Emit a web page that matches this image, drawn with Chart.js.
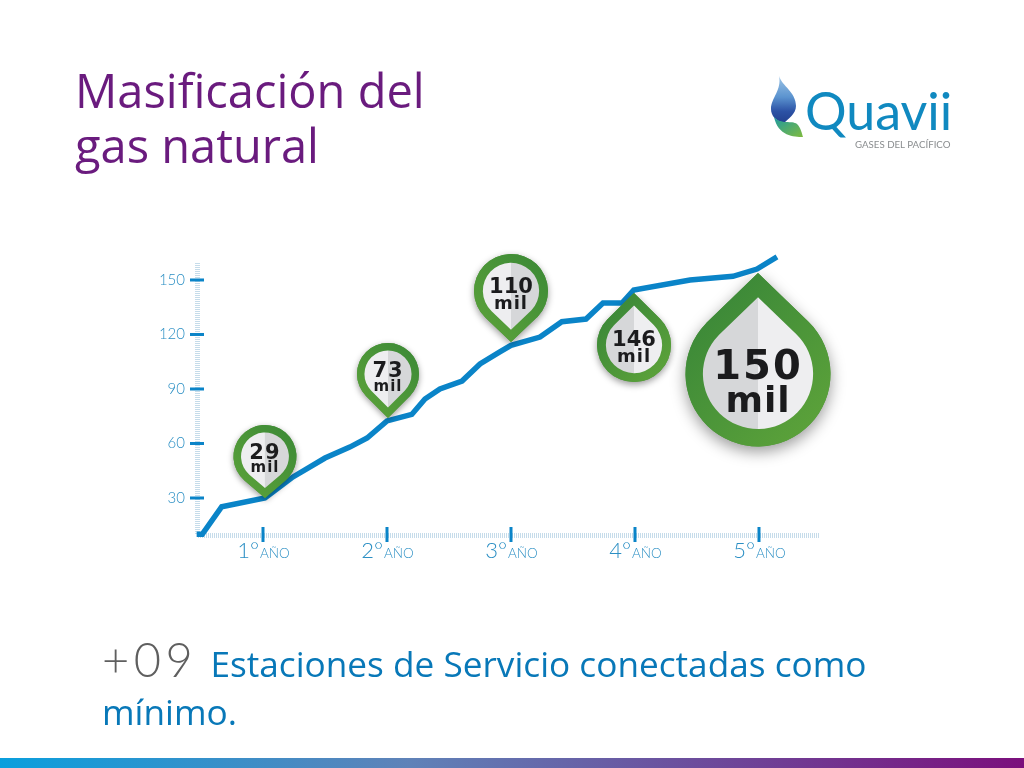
<!DOCTYPE html>
<html>
<head>
<meta charset="utf-8">
<title>Masificación del gas natural</title>
<script src="https://cdn.jsdelivr.net/npm/chart.js@4/dist/chart.umd.js"></script>
<style>
	html, body { margin: 0; padding: 0; background: #fff; }
	#page { position: relative; width: 1024px; height: 768px; overflow: hidden; font-family: "Open Sans", sans-serif; }
	#chart { position: absolute; left: 0; top: 0; }
	.title { position: absolute; left: 75px; top: 63px; font-size: 47px; line-height: 55px; color: #6a1b7e; }
	.foot { position: absolute; left: 102px; top: 635px; width: 800px; font-size: 35.2px; line-height: 48px; color: #0878b8; white-space: nowrap; }
	.foot b { font-family: Lato, sans-serif; font-weight: 300; font-size: 47px; color: #5f5f5f; letter-spacing: 4.5px; margin-right: 4px; line-height: 48px; }
	.bar { position: absolute; left: 0; top: 758px; width: 1024px; height: 10px; background: linear-gradient(to right, #0a9fdd, #5f82b8 40%, #7b0f7c); }
	.brand { position: absolute; left: 805px; top: 79px; font-family: Lato, sans-serif; font-size: 52px; line-height: 62px; color: #1089c0; }
	.sub { position: absolute; left: 855px; top: 138px; font-family: Lato, sans-serif; font-size: 9.7px; line-height: 13px; color: #8a8d8f; white-space: nowrap; }
	svg { position: absolute; left: 768px; top: 74px; }
</style>
</head>
<body>
<div id="page">
	<canvas id="chart" width="1024" height="768"></canvas>
	<div class="title">Masificación del<br>gas natural</div>
	<svg width="40" height="68" viewBox="0 0 40 68">
		<defs>
			<linearGradient id="blue" x1="0" y1="0" x2="0" y2="1">
				<stop offset="0" stop-color="#9cc4e6"/>
				<stop offset="0.45" stop-color="#5b93cf"/>
				<stop offset="0.75" stop-color="#2c52a5"/>
				<stop offset="1" stop-color="#22408f"/>
			</linearGradient>
			<linearGradient id="green" x1="0" y1="0" x2="1" y2="1">
				<stop offset="0" stop-color="#1f9aa0"/>
				<stop offset="1" stop-color="#7fbb3f"/>
			</linearGradient>
		</defs>
		<path d="M11 2 C14 12 28 18 28 32 C28 40 20 45 16 49 C8 47 3 42 3 35 C3 24 14 16 11 2 Z" fill="url(#blue)"/>
		<path d="M6 43 C13 51 24 46 29 50 C33 54 34 60 35 63 C26 63 10 62 6 43 Z" fill="url(#green)"/>
	</svg>
	<div class="brand">Quavii</div>
	<div class="sub">GASES DEL PACÍFICO</div>
	<div class="foot"><b>+09</b> Estaciones de Servicio conectadas como<br>mínimo.</div>
	<div class="bar"></div>
</div>
<script>
// values, x is in years
const lineYears = [0.465, 0.51, 0.667, 1.016, 1.242, 1.5, 1.7, 1.84, 2, 2.2, 2.306, 2.427, 2.605, 2.75, 2.91, 3, 3.234, 3.41, 3.605, 3.742, 3.895, 3.99, 4.444, 4.79, 4.984, 5.145];
const lineValues = [10, 10, 25.2, 30, 41.6, 52, 58, 63, 72.4, 76, 84.5, 90, 94.4, 103.8, 110.4, 114, 118.6, 127, 128.5, 137.3, 137.3, 144.5, 150, 152, 156, 162.7];

const pinYears = [1.016, 2.008, 3, 3.992, 4.992];
const pinValues = [30, 74, 115.9, 142.8, 153.9];
const pinLabels = ["29", "73", "110", "146", "150"];

const yTicks = [30, 60, 90, 120, 150];
const xTicks = [1, 2, 3, 4, 5];
const xTickLabels = ["1°", "2°", "3°", "4°", "5°"];
const xTickUnit = "AÑO";

const BLUE = "#0a84c8";
const TICK_TEXT = "#2b8fc4";

// rule ticks and the two sized year labels
const axisPlugin = {
	id: "axisRules",
	beforeDatasetsDraw(chart) {
		const { ctx, scales } = chart;
		const x = scales.x;
		const y = scales.y;
		const left = x.left;
		const bottom = y.bottom;

		ctx.save();
		ctx.fillStyle = "#c6dcea";
		for (let v = x.min + 0.02; v < x.max; v += 1 / 62) {
			ctx.fillRect(Math.round(x.getPixelForValue(v)), bottom - 2, 1, 5);
		}
		for (let v = y.min + 1; v < 159.5; v += 1.1) {
			ctx.fillRect(left - 1, Math.round(y.getPixelForValue(v)), 5, 1);
		}

		ctx.fillStyle = BLUE;
		yTicks.forEach((t) => {
			ctx.fillRect(left - 6, y.getPixelForValue(t) - 1.5, 14, 3);
		});
		xTicks.forEach((t, i) => {
			const px = x.getPixelForValue(t);
			ctx.fillStyle = BLUE;
			ctx.fillRect(px - 1.5, bottom - 8, 3, 15);

			ctx.fillStyle = TICK_TEXT;
			ctx.textBaseline = "alphabetic";
			ctx.textAlign = "right";
			ctx.font = "300 22px Lato";
			ctx.fillText(xTickLabels[i], px - 4, bottom + 23);
			ctx.textAlign = "left";
			ctx.font = "300 13.5px Lato";
			ctx.fillText(xTickUnit, px - 3, bottom + 23);
		});
		ctx.restore();
	},
	afterDatasetsDraw(chart) {
		const meta = chart.getDatasetMeta(1);
		meta.data.forEach((pt, i) => drawPin(chart.ctx, pt.x, pt.y, i));
	},
};

// teardrop, d is the signed distance from circle centre to tip
const dropPath = (ctx, cx, cy, r, d) => {
	const beta = Math.acos(r / Math.abs(d));
	const toTip = d > 0 ? Math.PI / 2 : -Math.PI / 2;
	ctx.beginPath();
	ctx.moveTo(cx, cy + d);
	ctx.arc(cx, cy, r, toTip + beta, toTip - beta, false);
	ctx.closePath();
};

const halves = (ctx, cx, cy, r, d, leftCol, rightCol) => {
	[[leftCol, cx - 200], [rightCol, cx]].forEach(([col, from]) => {
		ctx.save();
		ctx.beginPath();
		ctx.rect(from, cy - 200, 200, 400);
		ctx.clip();
		dropPath(ctx, cx, cy, r, d);
		ctx.fillStyle = col;
		ctx.fill();
		ctx.restore();
	});
};

const drawPin = (ctx, tipX, tipY, i) => {
	const shape = [
		{ r: 31.5, d: 41.5, num: 21, mil: 15, numY: -39, milY: -26, gap: 1 },
		{ r: 31, d: 44, num: 21, mil: 15, numY: -41, milY: -27, gap: 1 },
		{ r: 37, d: 51, num: 21, mil: 18, numY: -49, milY: -33, gap: 0 },
		{ r: 37, d: -52, num: 21, mil: 18, numY: 53, milY: 69, gap: 0 },
		{ r: 72.5, d: -101, num: 40, mil: 36, numY: 106, milY: 139, gap: 2 },
	][i];
	const { r, d } = shape;
	const cx = tipX;
	const cy = tipY - d;
	const down = d > 0;

	ctx.save();
	ctx.shadowColor = "rgba(0,0,0,0.4)";
	ctx.shadowBlur = r / 5;
	ctx.shadowOffsetY = r / 14;
	dropPath(ctx, cx, cy, r, d);
	ctx.fillStyle = "#4a9436";
	ctx.fill();
	ctx.restore();

	const ring = ctx.createLinearGradient(cx - r, cy - r, cx + r, cy + r);
	ring.addColorStop(0, "#388638");
	ring.addColorStop(1, "#60a53a");
	const ringDown = ctx.createLinearGradient(cx - r, cy + r, cx + r, cy - r);
	ringDown.addColorStop(0, "#5ba23a");
	ringDown.addColorStop(1, "#3a8836");
	const fill = down ? ringDown : ring;
	halves(ctx, cx, cy, r, d, fill, fill);
	halves(ctx, cx, cy, r * 0.76, d * 0.76, down ? "#eeeef0" : "#d6d7d9", down ? "#d6d7d9" : "#eeeef0");

	ctx.save();
	ctx.fillStyle = "#1b1b1d";
	ctx.textAlign = "center";
	ctx.textBaseline = "alphabetic";
	ctx.font = "bold " + shape.num + "px 'DejaVu Sans'";
	ctx.letterSpacing = shape.gap + "px";
	ctx.fillText(pinLabels[i], cx, tipY + shape.numY);
	ctx.font = "bold " + shape.mil + "px 'DejaVu Sans'";
	ctx.letterSpacing = "1px";
	ctx.fillText("mil", cx, tipY + shape.milY);
	ctx.restore();
};

new Chart(document.getElementById("chart"), {
	type: "line",
	data: {
		datasets: [
			{
				label: "Conexiones",
				data: lineYears.map((x, i) => ({ x: x, y: lineValues[i] })),
				borderColor: BLUE,
				borderWidth: 5.5,
				pointRadius: 0,
				tension: 0,
				clip: false,
			},
			{
				label: "Hitos",
				data: pinYears.map((x, i) => ({ x: x, y: pinValues[i] })),
				showLine: false,
				pointRadius: 0,
				clip: false,
			},
		],
	},
	plugins: [axisPlugin],
	options: {
		responsive: false,
		animation: false,
		devicePixelRatio: 1,
		layout: { padding: { left: 146, right: 204, top: 256, bottom: 233 } },
		plugins: { legend: { display: false }, tooltip: { enabled: false } },
		scales: {
			x: {
				type: "linear",
				min: 0.4597,
				max: 5.492,
				border: { display: false },
				grid: { display: false },
				ticks: { display: false },
				afterBuildTicks: (axis) => {
					axis.ticks = xTicks.map((v) => ({ value: v }));
				},
				afterFit: (axis) => {
					axis.height = 0;
				},
			},
			y: {
				min: 9.63,
				max: 163.2,
				border: { display: false },
				grid: { display: false },
				afterBuildTicks: (axis) => {
					axis.ticks = yTicks.map((v) => ({ value: v }));
				},
				afterFit: (axis) => {
					axis.width = 50;
				},
				ticks: {
					color: TICK_TEXT,
					padding: 3,
					font: { family: "Lato", size: 15, weight: "300" },
				},
			},
		},
	},
});
</script>
</body>
</html>
